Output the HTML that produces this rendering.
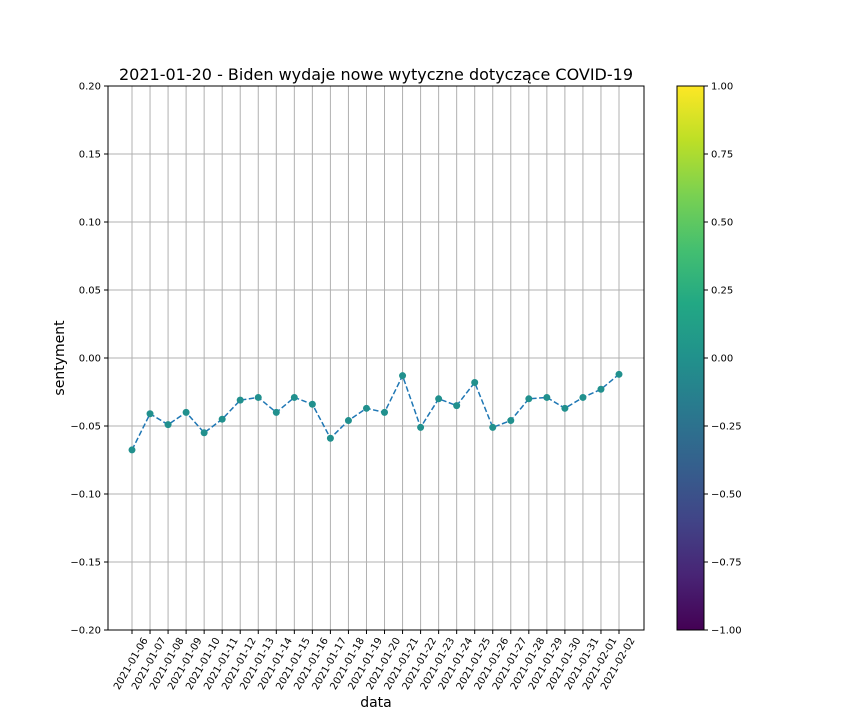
<!DOCTYPE html>
<html><head><meta charset="utf-8"><style>
body{margin:0;background:#fff;font-family:"Liberation Sans","DejaVu Sans",sans-serif}
svg text{font-family:"DejaVu Sans","Liberation Sans",sans-serif}
</style></head><body>
<svg id="chart" width="864" height="720" viewBox="0 0 864 720" xmlns="http://www.w3.org/2000/svg">
<defs>
<linearGradient id="vir" x1="0" y1="1" x2="0" y2="0">
<stop offset="0" stop-color="#440154"/><stop offset="0.1" stop-color="#482475"/><stop offset="0.2" stop-color="#414487"/><stop offset="0.3" stop-color="#355f8d"/><stop offset="0.4" stop-color="#2a788e"/><stop offset="0.5" stop-color="#21918c"/><stop offset="0.6" stop-color="#22a884"/><stop offset="0.7" stop-color="#44bf70"/><stop offset="0.8" stop-color="#7ad151"/><stop offset="0.9" stop-color="#bddf26"/><stop offset="1" stop-color="#fde725"/>
</linearGradient>
</defs>
<text x="376" y="80" font-size="16" text-anchor="middle">2021-01-20 - Biden wydaje nowe wytyczne dotyczące COVID-19</text>
<g id="grid"></g>
<g id="xticks"></g>
<g id="yticks"></g>
<path id="line" fill="none" stroke="#1f77b4" stroke-width="1.5" stroke-dasharray="5.5,2.5"/>
<g id="points"></g>
<rect x="108" y="86" width="536" height="544" fill="none" stroke="#000" stroke-width="1"/>
<text x="0" y="0" font-size="14" text-anchor="middle" transform="translate(64,358) rotate(-90)">sentyment</text>
<text x="376" y="707" font-size="14" text-anchor="middle">data</text>
<rect x="677" y="86" width="27" height="544" fill="url(#vir)" stroke="#000" stroke-width="1"/>
<g id="cbticks"></g>
</svg>
<script>
const dates=["2021-01-06","2021-01-07","2021-01-08","2021-01-09","2021-01-10","2021-01-11","2021-01-12","2021-01-13","2021-01-14","2021-01-15","2021-01-16","2021-01-17","2021-01-18","2021-01-19","2021-01-20","2021-01-21","2021-01-22","2021-01-23","2021-01-24","2021-01-25","2021-01-26","2021-01-27","2021-01-28","2021-01-29","2021-01-30","2021-01-31","2021-02-01","2021-02-02"];
const sentiment=[-0.0676,-0.041,-0.049,-0.040,-0.055,-0.045,-0.031,-0.029,-0.040,-0.029,-0.034,-0.059,-0.046,-0.037,-0.040,-0.013,-0.051,-0.030,-0.035,-0.018,-0.051,-0.046,-0.030,-0.029,-0.037,-0.029,-0.023,-0.012];
const yTicks=[0.20,0.15,0.10,0.05,0.00,-0.05,-0.10,-0.15,-0.20];
const cbTicks=[1.00,0.75,0.50,0.25,0.00,-0.25,-0.50,-0.75,-1.00];
const NS="http://www.w3.org/2000/svg";
const xS=i=>132+i*(619-132)/(dates.length-1);
const yS=v=>358-v*(544/0.4);
const cS=v=>358-v*272;
function mk(t,a,p){const e=document.createElementNS(NS,t);for(const k in a)e.setAttribute(k,a[k]);p.appendChild(e);return e;}
const fmt=v=>(v<0?"\u2212":"")+Math.abs(v).toFixed(2);
const grid=document.getElementById('grid'),xt=document.getElementById('xticks'),yt=document.getElementById('yticks');
dates.forEach((d,i)=>{const x=xS(i);
 const g=mk('line',{x1:x,x2:x,y1:86,y2:630,stroke:'#b0b0b0','stroke-width':1},grid);
 
 
 mk('line',{x1:x,x2:x,y1:630,y2:634,stroke:'#000'},xt);
 const t=mk('text',{'font-size':10,'text-anchor':'end',transform:`translate(${x+16},${640}) rotate(-60)`},xt);
 t.textContent=d;
 
 
});
yTicks.forEach(v=>{const y=yS(v);
 const g=mk('line',{x1:108,x2:644,y1:y,y2:y,stroke:'#b0b0b0','stroke-width':1},grid);
 
 
 mk('line',{x1:104,x2:108,y1:y,y2:y,stroke:'#000'},yt);
 const t=mk('text',{x:101,y:y+3.5,'font-size':10,'text-anchor':'end'},yt);
 t.textContent=fmt(v);
 
 
});
const cb=document.getElementById('cbticks');
cbTicks.forEach(v=>{const y=cS(v);
 mk('line',{x1:704,x2:708,y1:y,y2:y,stroke:'#000'},cb);
 const t=mk('text',{x:711,y:y+3.5,'font-size':10},cb);
 t.textContent=fmt(v);
 
 
});
document.getElementById('line').setAttribute('d',sentiment.map((v,i)=>(i?'L':'M')+xS(i)+','+yS(v)).join(''));
const pts=document.getElementById('points');
sentiment.forEach((v,i)=>{
 const c=mk('circle',{cx:xS(i),cy:yS(v),r:3.5,fill:'#21908d'},pts);
 
 
});
</script>
</body></html>
